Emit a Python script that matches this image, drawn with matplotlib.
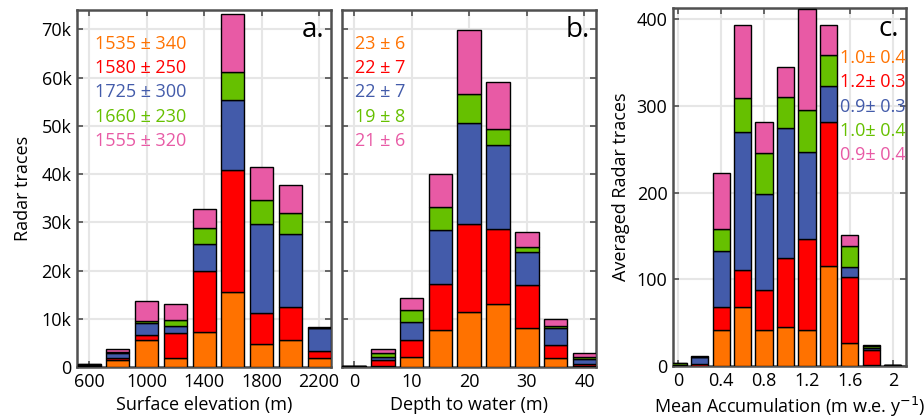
import numpy as np
import matplotlib
matplotlib.use("Agg")
import matplotlib.pyplot as plt

plt.rcParams["font.family"] = ["Open Sans", "DejaVu Sans"]

COLORS = ["#FF7200", "#FF0000", "#435BAA", "#66C000", "#E85AA5"]

# panel a: surface elevation bins (m)
elev = [600, 800, 1000, 1200, 1400, 1600, 1800, 2000, 2200]
elev_orange = [200, 1500, 5700, 1900, 7200, 15500, 4700, 5700, 1800]
elev_red = [100, 400, 1000, 5200, 12800, 25400, 6400, 6700, 1500]
elev_blue = [200, 1100, 2400, 1400, 5400, 14400, 18600, 15100, 4700]
elev_green = [50, 200, 400, 1200, 3400, 5900, 4900, 4500, 100]
elev_pink = [100, 600, 4200, 3300, 4000, 12000, 6900, 5700, 100]
elev_labels = ["1535 ± 340", "1580 ± 250", "1725 ± 300", "1660 ± 230", "1555 ± 320"]

# panel b: depth to water bins (m)
depth = [0, 5, 10, 15, 20, 25, 30, 35, 40]
depth_orange = [80, 200, 2100, 7700, 11500, 13000, 8100, 1900, 300]
depth_red = [60, 1200, 3600, 9600, 18200, 15700, 8800, 2700, 400]
depth_blue = [60, 700, 3600, 11100, 20800, 17300, 7000, 3400, 1000]
depth_green = [40, 800, 2600, 4700, 6000, 3400, 1000, 600, 300]
depth_pink = [40, 900, 2300, 7000, 13300, 9600, 3000, 1400, 800]
depth_labels = ["23 ± 6", "22 ± 7", "22 ± 7", "19 ± 8", "21 ± 6"]

# panel c: mean accumulation bins (m w.e./yr)
accum = [0.0, 0.2, 0.4, 0.6, 0.8, 1.0, 1.2, 1.4, 1.6, 1.8, 2.0]
accum_orange = [0.5, 0.5, 42, 68, 42, 45, 41, 115, 26, 1.5, 0.3]
accum_red = [0.5, 1.5, 26, 43, 46, 80, 106, 166, 77, 17.5, 0.3]
accum_blue = [0.5, 8, 65, 159, 110, 149, 100, 42, 11, 1.5, 0.3]
accum_green = [1.5, 0.5, 25, 39, 48, 36, 48, 36, 24, 2.5, 0.3]
accum_pink = [0.5, 1, 65, 84, 35, 35, 117, 34, 13, 1, 0.2]
accum_labels = ["1.0± 0.4", "1.2± 0.3", "0.9± 0.3", "1.0± 0.4", "0.9± 0.4"]


def stacked(ax, x, series, width):
    bottom = np.zeros(len(x))
    for vals, c in zip(series, COLORS):
        vals = np.array(vals, dtype=float)
        ax.bar(x, vals, width=width, bottom=bottom, color=c,
               edgecolor="black", linewidth=1.0, zorder=3)
        bottom += vals


def style(ax):
    ax.grid(color="#e6e6e6", linewidth=1.5, zorder=0)
    ax.set_axisbelow(True)
    for s in ax.spines.values():
        s.set_color("#505050")
        s.set_linewidth(1.8)
    ax.tick_params(direction="in", top=True, right=True, length=4,
                   width=1.2, color="#505050", labelsize=13, pad=4)


fig = plt.figure(figsize=(9.24, 4.19), dpi=100)
ax1 = fig.add_axes([0.0833, 0.1241, 0.2749, 0.852])
ax2 = fig.add_axes([0.3701, 0.1241, 0.2749, 0.852])
ax3 = fig.add_axes([0.7284, 0.1265, 0.2522, 0.8544])

# a.
stacked(ax1, elev, [elev_orange, elev_red, elev_blue, elev_green, elev_pink], 160)
style(ax1)
ax1.set_xlim(515, 2283)
ax1.set_ylim(0, 74000)
ax1.set_xticks([600, 1000, 1400, 1800, 2200])
ax1.set_yticks(np.arange(0, 70001, 10000))
ax1.set_yticklabels(["0"] + [f"{k}k" for k in range(10, 71, 10)])
ax1.set_xlabel("Surface elevation (m)", fontsize=13, labelpad=4)
ax1.set_ylabel("Radar traces", fontsize=13, labelpad=7)
for i, (t, c) in enumerate(zip(elev_labels, COLORS)):
    ax1.text(0.07, 0.905 - i * 0.068, t, color=c, fontsize=13,
             transform=ax1.transAxes, va="center", ha="left")
ax1.text(0.975, 0.945, "a.", fontsize=20, ha="right", va="center",
         transform=ax1.transAxes)

# b.
stacked(ax2, depth, [depth_orange, depth_red, depth_blue, depth_green, depth_pink], 4.1)
style(ax2)
ax2.set_xlim(-2.1, 42.0)
ax2.set_ylim(0, 74000)
ax2.set_xticks([0, 10, 20, 30, 40])
ax2.set_yticks(np.arange(0, 70001, 10000))
ax2.set_yticklabels([])
ax2.set_xlabel("Depth to water (m)", fontsize=13, labelpad=4)
for i, (t, c) in enumerate(zip(depth_labels, COLORS)):
    ax2.text(0.05, 0.905 - i * 0.068, t, color=c, fontsize=13,
             transform=ax2.transAxes, va="center", ha="left")
ax2.text(0.975, 0.945, "b.", fontsize=20, ha="right", va="center",
         transform=ax2.transAxes)

# c.
stacked(ax3, accum, [accum_orange, accum_red, accum_blue, accum_green, accum_pink], 0.16)
style(ax3)
ax3.set_xlim(-0.048, 2.124)
ax3.set_ylim(0, 413)
ax3.set_xticks([0, 0.4, 0.8, 1.2, 1.6, 2.0])
ax3.set_xticklabels(["0", "0.4", "0.8", "1.2", "1.6", "2"])
ax3.set_yticks([0, 100, 200, 300, 400])
ax3.set_xlabel("Mean Accumulation (m w.e. y$^{-1}$)", fontsize=13, labelpad=4)
ax3.set_ylabel("Averaged Radar traces", fontsize=13, labelpad=5)
for i, (t, c) in enumerate(zip(accum_labels, COLORS)):
    ax3.text(1.0, 0.86 - i * 0.068, t, color=c, fontsize=13,
             transform=ax3.transAxes, va="center", ha="right")
ax3.text(0.97, 0.94, "c.", fontsize=20, ha="right", va="center",
         transform=ax3.transAxes)

fig.savefig("out.png", dpi=100)
